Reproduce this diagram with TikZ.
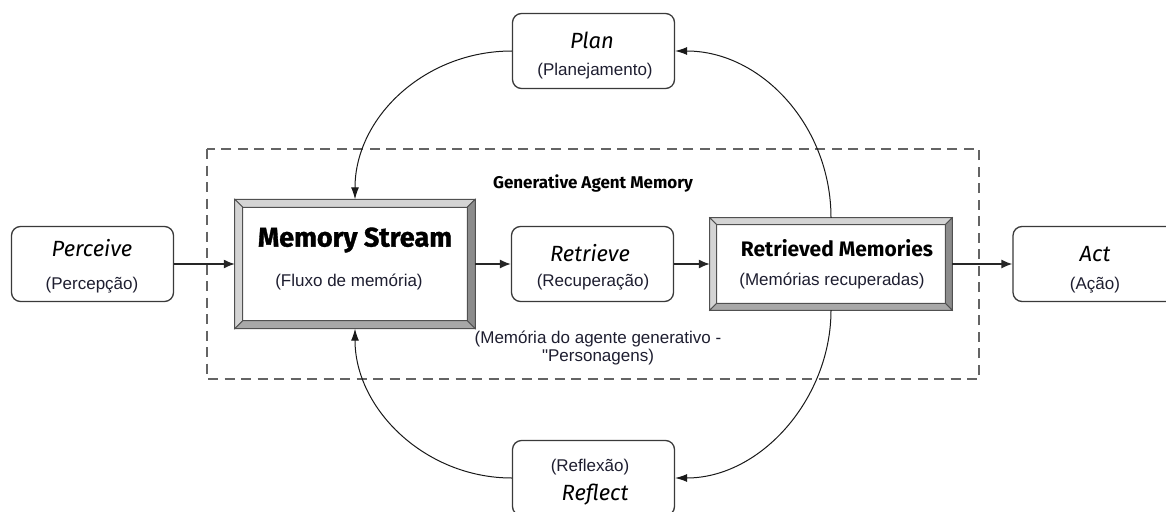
\documentclass[tikz,border=0pt]{standalone}
\usepackage{fontspec}
\setmainfont{Liberation Sans}[Ligatures=TeXOff]
\newfontfamily\titlefont{Fira Sans}
\newfontfamily\heavyfont{Fira Sans}[BoldFeatures={FakeBold=1.2}]
\usetikzlibrary{arrows.meta,calc}
\definecolor{boxline}{HTML}{3A3A3A}
\definecolor{subtext}{HTML}{1E1E30}
\definecolor{dashgrey}{HTML}{646464}
\definecolor{bevline}{HTML}{505050}
\definecolor{bevlight}{HTML}{D4D4D4}
\definecolor{bevmid}{HTML}{A8A8A8}
\definecolor{bevdark}{HTML}{8C8C8C}
\newcommand\mybevel[2]{%
  \fill[draw=bevline, fill=bevlight, line width=0.8pt] (#1.north west) -- (#1.north east) -- ($(#1.north east)+(-#2,#2)$) -- ($(#1.north west)+(#2,#2)$) -- cycle;
  \fill[draw=bevline, fill=bevlight, line width=0.8pt] (#1.north west) -- (#1.south west) -- ($(#1.south west)+(#2,-#2)$) -- ($(#1.north west)+(#2,#2)$) -- cycle;
  \fill[draw=bevline, fill=bevdark, line width=0.8pt] (#1.north east) -- (#1.south east) -- ($(#1.south east)+(-#2,-#2)$) -- ($(#1.north east)+(-#2,#2)$) -- cycle;
  \fill[draw=bevline, fill=bevmid, line width=0.8pt] (#1.south west) -- (#1.south east) -- ($(#1.south east)+(-#2,-#2)$) -- ($(#1.south west)+(#2,-#2)$) -- cycle;
  \draw[bevline, line width=1pt] ($(#1.north west)+(#2,#2)$) rectangle ($(#1.south east)+(-#2,-#2)$);
  \draw[bevline, line width=1.2pt] (#1.north west) rectangle (#1.south east);
}
\begin{document}
\begin{tikzpicture}[x=1pt,y=-1pt,
  rbox/.style={draw=boxline, line width=1.3pt, rounded corners=9pt, fill=white,
    minimum width=162pt, minimum height=75pt, inner sep=0pt},
  bevbox/.style={fill=white, inner sep=0pt},
  ttl/.style={font=\titlefont\itshape\fontsize{22}{26}\selectfont, text=black, inner sep=0pt},
  bttl/.style={font=\titlefont\bfseries\fontsize{21}{25}\selectfont, text=black, inner sep=0pt},
  sub/.style={font=\fontsize{17}{20}\selectfont, text=subtext, inner sep=0pt},
  frame/.style={draw=dashgrey, line width=2pt, dash pattern=on 10pt off 6.5pt},
  arr/.style={-{Latex[length=11pt,width=9pt]}, line width=1.4pt, draw=black!85},
  carr/.style={-{Latex[length=12pt,width=8pt]}, line width=1pt, draw=black!90},
]
\clip (0,0) rectangle (1166,511);
\fill[white] (0,0) rectangle (1166,511);

% dashed frame
\draw[frame] (207,149) rectangle (979,379);
\node[font=\titlefont\bfseries\fontsize{17}{20}\selectfont, inner sep=0pt] (gam) at (593,183) {Generative Agent Memory};
\node[sub, align=center, font=\fontsize{17}{18.5}\selectfont] (gam-s) at (598,348) {(Memória do agente generativo -\\"Personagens)};

% rounded boxes
\node[rbox] (perceive) at (92.5,264) {};
\node[ttl] (perceive-t) at (92,248) {Perceive};
\node[sub] (perceive-s) at (92,285) {(Percepção)};

\node[rbox] (plan) at (593.5,51) {};
\node[ttl] (plan-t) at (592,40) {Plan};
\node[sub] (plan-s) at (595,71) {(Planejamento)};

\node[rbox] (retrieve) at (592.5,264) {};
\node[ttl] (retrieve-t) at (590,253) {Retrieve};
\node[sub] (retrieve-s) at (593,282) {(Recuperação)};

\node[rbox] (reflect) at (593.5,478) {};
\node[sub] (reflect-s) at (590,467) {(Reflexão)};
\node[ttl] (reflect-t) at (595,495) {Reflect};

\node[rbox] (act) at (1094,264) {};
\node[ttl] (act-t) at (1095,254) {Act};
\node[sub] (act-s) at (1095,285) {(Ação)};

% bevel boxes
\node[bevbox, minimum width=240pt, minimum height=129pt] (ms) at (355,264) {};
\mybevel{ms}{8}
\node[bttl, font=\heavyfont\bfseries\fontsize{27}{30}\selectfont] (ms-t) at (355,240) {Memory Stream};
\node[sub] (ms-s) at (349,282) {(Fluxo de memória)};

\node[bevbox, minimum width=242pt, minimum height=92pt] (rm) at (831,264) {};
\mybevel{rm}{7}
\node[bttl] (rm-t) at (837,248) {Retrieved Memories};
\node[sub] (rm-s) at (832,281) {(Memórias recuperadas)};

% straight arrows
\draw[arr] (perceive.east) -- (ms.west);
\draw[arr] (ms.east) -- (retrieve.west);
\draw[arr] (retrieve.east) -- (rm.west);
\draw[arr] (rm.east) -- (act.west);

% curved arrows
\draw[carr] (rm.north) .. controls +(0,-92) and +(86,0) .. (plan.east);
\draw[carr] (plan.west) .. controls +(-87,0) and +(0,-82) .. (ms.north);
\draw[carr] (rm.south) .. controls +(0,88) and +(86,0) .. (reflect.east);
\draw[carr] (reflect.west) .. controls +(-87,0) and +(0,80) .. (ms.south);
\end{tikzpicture}
\end{document}
